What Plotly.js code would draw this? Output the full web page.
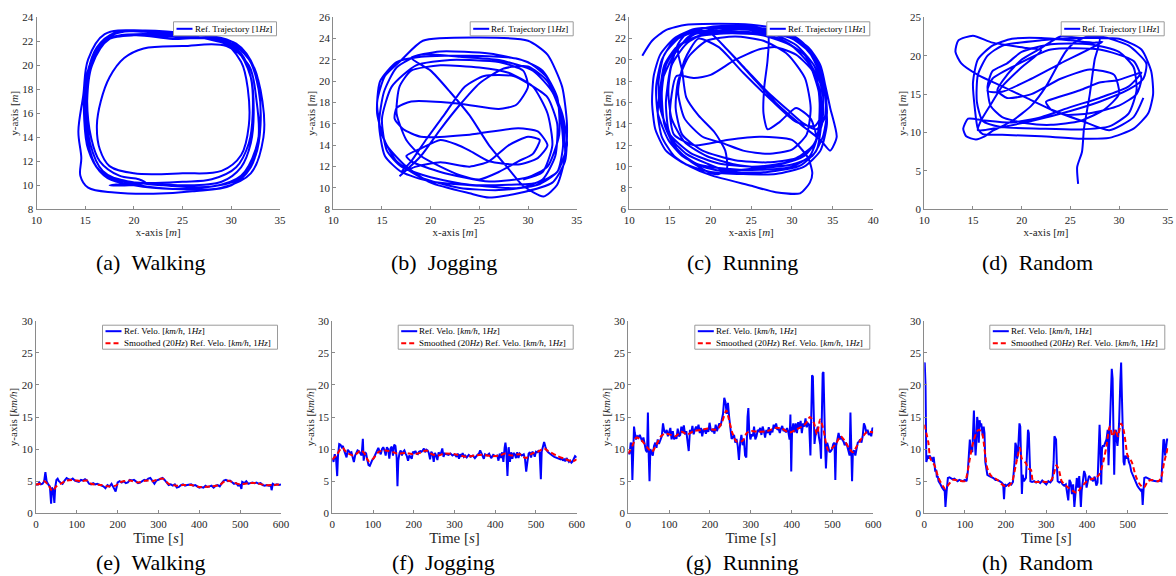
<!DOCTYPE html>
<html>
<head>
<meta charset="utf-8">
<script src="https://cdn.plot.ly/plotly-3.0.1.min.js"></script>
<style>html,body{margin:0;padding:0;background:#fff;}#chart{width:1176px;height:576px;}</style>
</head>
<body>
<div id="chart"></div>
<script>
// ---------------- DATA ----------------
const captions = ['(a)', '(b)', '(c)', '(d)', '(e)', '(f)', '(g)', '(h)'];
const activities = ['Walking', 'Jogging', 'Running', 'Random'];
const trajName = 'Ref. Trajectory [1<i>Hz</i>]';
const veloName = 'Ref. Velo. [<i>km/h</i>, 1<i>Hz</i>]';
const smoothName = 'Smoothed (20<i>Hz</i>) Ref. Velo. [<i>km/h</i>, 1<i>Hz</i>]';
const xTrajTitle = 'x-axis [<i>m</i>]';
const yTrajTitle = 'y-axis [<i>m</i>]';
const xVeloTitle = 'Time [<i>s</i>]';
const yVeloTitle = 'y-axis [<i>km/h</i>]';

// trajectories [x, y] in metres
const walkPath = [[17.5,10.0],[21,10.2],[25,10.0],[29,10.3],[31,11.5],[32,13.5],[32.3,16],[32,19],[30.5,21.3],[27,22.3],[22,22.8],[18,22.6],[16,21],[15,18.5],[14.9,15.5],[15.3,13],[16.5,11.2],[19,10.4],[23,10.0],[28,9.9],[31,10.8],[32.5,13],[33,16],[32.5,19.5],[30.5,21.8],[26,22.4],[21,22.6],[17.5,22.2],[15.7,20],[15.2,17],[15.5,13.5],[16.8,11.2],[19.5,10.2],[24,9.7],[29,9.8],[32,11.0],[33.3,14],[33.2,17],[32.2,20],[30,22],[26,22.6],[21,22.9],[17,22.6],[15.3,20.5],[14.8,17.5],[14.3,14.5],[14.6,12.3],[14.5,10.8],[15.3,9.8],[18,9.4],[22,9.3],[26,9.5],[30,10.0],[32,11.5],[32.8,14],[32.6,17],[31.8,20],[29.5,21.6],[25,21.6],[21,21.4],[19,20.6],[17.5,19],[16.6,17],[16.2,15],[16.5,13],[17.5,11.6],[20,11.0],[25,11.0],[29,11.2],[31,12.5],[31.8,15],[31.7,18],[31,20.3],[29,22],[25,22.3],[21,22.5],[17.3,22.2],[15.5,20],[15,17.3],[15.2,14],[15.8,12],[17.3,10.6],[20,10.0],[24,9.7],[28,9.9],[31,10.6],[32.5,12.5],[33,15],[32.8,18],[31.8,20.5],[29.5,22],[25,22.4],[21,22.8],[18,22.7],[16.2,21.5],[15.3,19.5],[15,16.5],[15.3,13.5],[16.2,11.5],[18,10.5],[21,10.2],[25,10.3],[28,10.5],[30.5,11.5],[31.8,13.5],[32.2,16],[32,19],[31,21],[28.5,22.2],[24,22.2],[20,22.5],[17,22.0],[15.5,20.0],[15.2,17],[15.6,14],[16.5,12],[18.5,10.8],[20.5,10.5],[21.2,10.2],[19.5,10.0],[17.5,10.0]];

const jogPath = [[16.8,11.1],[19,13],[21,15.5],[23,17.8],[25,19.8],[27.5,21.2],[30,21.4],[32,20],[33.5,17],[34,14],[33,11.5],[31,10.3],[27,9.8],[23,10.0],[19,11],[16.5,12.5],[15,15],[14.5,18],[15.3,20.5],[17,22],[19.2,23.8],[25,24.1],[30,23.8],[32,22.5],[33.5,19.5],[34,16],[33.8,12.5],[32.5,10.5],[29,9.5],[26,9.1],[24,9.5],[20,10.5],[17.5,12],[15.5,14],[14.5,17],[14.8,20],[16.5,21.8],[19,22.3],[24,22.4],[29,22.1],[31.5,21],[33,18.5],[33.2,15],[32,12],[30,11],[26,10.6],[21,11.5],[18,12.5],[17.5,13],[19,13.7],[21,14.5],[22.6,14.1],[24,13.5],[26,12.5],[29,12.2],[31,12.8],[32,14],[31,15.3],[29,15.6],[24,15],[19,14.8],[17.2,15.5],[16.3,16.5],[16.5,17.5],[18,18.1],[23,17.9],[27,17.4],[28.8,17.8],[30,19.5],[29.5,21.0],[27,21.8],[22,22.0],[18.5,21.5],[16,19.5],[15,16.5],[15.5,13.5],[17,12],[20,11],[24,10.3],[28,10.3],[31,10.5],[33,11.5],[33.6,14],[33.2,17.5],[32,20.3],[30,21.8],[26,22.6],[21,22.8],[18,22.2],[20,21],[22,19],[24,16.8],[26,14],[28,11.8],[29.5,10.2],[31.6,9.2],[33,10.3],[33.8,13],[33.5,16.5],[32.5,19],[30.5,21],[27,22],[23,22.3],[19,22.5],[16.5,21.3],[15.2,19],[14.7,16],[15.3,13],[17,11.5],[20,10.6],[25,10.2],[29,10.0],[31.5,10.8],[32.8,13],[33,16],[32,18.5],[30,19.8],[28.5,20.5],[25.5,20.5],[23.5,19.5],[21.5,17],[19.5,14.5],[18,12.5],[17,11.5],[18.5,12],[21,12.4],[24,12.0],[26,12.5],[28,14],[30,14.8],[31.2,14.5],[30.5,13.2],[29,12.5],[27,11.5],[25,10.8],[23,11.2],[21,12],[19,13],[17.5,14.5],[16.5,17],[16.8,19.5],[18,21],[21,21.5],[25,21.3],[28,20.8],[30.5,19.5],[32,17],[32.5,14],[31.5,11.5],[29.5,10.8]];

const runPath = [[11.6,20.4],[12.8,21.8],[14.5,22.8],[17,23.3],[21,23.4],[25,23.3],[29,22.8],[31.5,21.5],[33,19.5],[34,17],[34.3,14],[33.5,11.5],[31.5,10],[28,9.3],[24,9.3],[20,9.5],[17,10.2],[14.5,11.5],[13.2,13.5],[12.8,16],[13,18.5],[13.8,20.5],[15.5,22],[18,22.9],[22,23.0],[26,22.8],[30,22.0],[32.5,20.5],[33.8,18.5],[34.7,15.5],[35.5,12.8],[34.7,11.5],[33.5,12.5],[31,14],[28,16],[25,18.5],[22,21],[20,22.5],[17.5,22.8],[16,21.5],[15,19],[14.5,16],[14.8,13.5],[16,11.5],[18.5,10.2],[22,9.8],[26,9.7],[30,10],[32.2,11],[33.2,13],[33.4,16],[33,18.5],[31.5,20.5],[28.5,22],[25,22.6],[21,22.7],[17.5,22.3],[15.5,20.5],[14,18],[13.5,15],[14,12.8],[15.5,11],[17.5,10],[20,9.2],[25,8.2],[28,7.6],[31,7.5],[32.2,8.5],[32.5,9.4],[32,10.8],[30,12.5],[26,12.8],[22,12.5],[18,12.0],[15.5,13],[15,15],[15.8,18.5],[18,18.3],[20,18.6],[23,20],[26,21],[28,21.2],[30.5,20.5],[32.5,19],[33.5,17],[33.6,14],[33,11.5],[31,10.1],[27,9.5],[22,9.5],[19,10],[16.5,11],[14.8,12.5],[13.5,15],[13.3,17.5],[14,20],[15.5,21.8],[18,22.6],[20,22.5],[22,21],[24.5,19],[27,17],[29.5,15.3],[31.5,14],[33,13.5],[34,14.5],[34.2,17],[33.5,19.5],[32,21.2],[29,22.5],[25,23],[21,23],[18,22.4],[16,21],[16.5,19],[17,16.5],[18.5,14.8],[20.5,13.2],[21.8,11.5],[22,9.8],[21,9.3],[20,9.4],[17.5,10.5],[15.5,12],[14.3,14],[14,17],[14.5,19.5],[16,21.3],[19,22.4],[23,22.6],[27,22.4],[27,20],[26.6,17.5],[26.5,15],[27,13.5],[28.5,14.2],[30.5,15.5],[32.3,14.5],[33,12.5],[31.5,11],[28.5,10.2],[25,9.8],[22,9.6],[19.5,10.3],[17,11.2],[15.3,12.5],[14.2,14.5],[13.8,17],[14.3,19.5],[15.8,21.2],[18.5,22.2],[22.5,22.5],[26.5,22.3],[30,21.3],[32.2,19.5],[33.3,17],[33.5,14.5],[32.8,12.2],[31,10.8],[28,10.2],[25,10.0],[21,10.3],[17.5,11.3],[15,13],[13.8,15.5],[13.6,18],[14.3,20.5],[16.5,22.3],[20,23.1],[24,23.2],[28,22.7],[31,21.6],[33,19.8],[34,17.5],[34.3,15],[33.8,12.8],[32.5,11.0],[30,10.2],[26.5,9.9],[23,10.2],[19.5,11],[16.8,12.3],[15.2,14.5],[14.8,17],[15.2,19.5],[17,21.5],[19.5,22.6],[23.5,22.9],[27.5,22.5],[30.5,21.4],[32.7,19.5],[33.8,16.8],[33.7,14],[32.6,12],[30.5,10.8],[27,10.4],[23,10.6],[19,11.5],[16.5,13],[15.7,15.5],[16,18],[17.3,20.3],[19.5,21.8],[23,22.2],[26.5,21.8],[29.5,20.5],[31.6,18.3],[32.3,15.5],[31.8,13],[30,11.6],[27,11.2],[24,11.5],[21.5,12.2],[19,12.8],[16.8,14.5],[16,17],[16.8,20],[18.5,22],[21,21.2],[24,18.8],[27.5,16.2],[30.5,14.2],[32.8,13.8],[33.8,15]];

const randPath = [[25.8,3.3],[25.7,5.5],[26.2,7.5],[26.4,10.5],[27,15],[27.5,19.5],[28,22.3],[26,22.3],[22,22.0],[18,21.3],[16.5,20],[15.5,17.5],[15.4,14],[16,11.5],[18,10.7],[22,10.5],[26,10.4],[29,10.8],[31,12.5],[31.8,15.5],[31.5,18.5],[30,20.5],[27,21.5],[23,21.5],[20,20.5],[18.5,19],[17,18],[16.5,16],[16.8,13.5],[18,12],[20.5,11.2],[23,11],[26,11.5],[28.5,13],[30,15],[29.5,17.5],[27,18.2],[24,17],[21,15],[18.5,14.5],[17.5,15.5],[18.5,17.5],[20,19.5],[22,21],[24,22.5],[26,22.3],[30,22.2],[32.3,20.8],[33.3,18],[33.5,15],[33,12.5],[31.5,10.5],[29,9.3],[26,9.2],[22,9.5],[18,9.7],[16,9.8],[15.5,10.5],[15.2,13],[15,16.5],[15.5,19.5],[17,21.3],[19,22.2],[22,22.3],[25,22],[27.5,21.7],[28.3,21.8],[24,19],[21,17],[18,15.3],[16.5,15.4],[17,17],[19,18.5],[23,20.8],[28,20.8],[31.5,19.3],[32.3,17],[31.8,15],[30,13.5],[27,12.5],[24.5,12.3],[23,13],[22.5,14],[23.5,14.5],[26,15.5],[28,16.5],[29.8,16.8],[31.5,17.5],[32.3,17.8],[31,16],[28,14.5],[25,13.3],[22,12],[19,11.3],[16,11.6],[14.5,11.8],[14.0,10.5],[14.3,9.5],[15.3,9.1],[16.2,9.5],[17,10.2],[19,11.5],[21,13.5],[22.5,16],[23.8,19],[24.5,20.5],[25.5,21.8],[27,22.6],[28.5,22.4],[31,21.3],[32.8,19],[32.5,17],[31,15.6],[28,14],[25,12.8],[21,11.5],[17,10.5],[15.5,10.3],[15.8,11.5],[17,14],[18,16],[20,18.5],[22,20.7],[20.5,21],[17,21.7],[15,22.6],[13.5,22],[13.2,20.5],[13.8,19],[15.5,17.5],[18,16],[20.5,14.5],[23,13],[26.2,11.5],[29,10.3],[31.5,12],[32.5,14.5]];

// velocities [time s, km/h]
const walkVelo = [[0,4.5],[5,4.5],[8,4.8],[12,4.5],[16,4.6],[20,5.0],[23,6.4],[26,5.0],[30,4.5],[34,4.2],[37,1.5],[39,4.0],[42,3.7],[45,1.6],[47,4.0],[50,5.2],[53,5.4],[56,5.0],[60,4.8],[65,4.6],[70,5.1],[75,5.5],[80,5.3],[85,5.2],[90,5.4],[95,5.1],[100,5.0],[105,4.9],[110,5.2],[115,5.1],[120,5.3],[125,5.1],[130,4.6],[135,4.5],[140,4.7],[145,4.5],[150,4.6],[155,4.5],[160,4.4],[165,4.2],[170,3.9],[175,4.4],[180,4.2],[185,4.6],[190,4.0],[195,3.4],[200,4.8],[205,5.0],[210,4.8],[215,5.0],[220,4.7],[225,4.8],[230,5.2],[235,5.1],[240,5.2],[245,5.0],[250,4.7],[255,4.8],[260,5.0],[265,5.2],[270,5.1],[275,5.4],[280,5.5],[285,5.0],[290,4.6],[295,5.1],[300,5.2],[305,5.3],[310,5.5],[315,5.2],[320,4.8],[325,4.4],[330,4.5],[335,4.3],[340,4.5],[345,4.0],[350,4.1],[355,4.4],[360,4.5],[365,4.3],[370,4.4],[375,4.5],[380,4.5],[385,4.3],[390,4.4],[395,4.2],[400,4.0],[405,4.1],[410,4.0],[415,4.3],[420,4.1],[425,4.2],[430,4.3],[435,4.0],[440,4.3],[445,4.4],[450,4.2],[455,4.7],[460,5.1],[465,5.2],[470,5.0],[475,5.1],[480,4.9],[485,4.6],[490,4.7],[495,4.3],[500,4.4],[503,3.8],[505,4.9],[510,4.7],[515,5.0],[520,4.6],[525,4.7],[530,4.8],[535,4.7],[540,4.8],[545,4.6],[550,4.7],[555,4.4],[560,4.3],[565,4.4],[570,4.3],[575,4.4],[577,3.6],[580,4.6],[585,4.4],[590,4.5],[595,4.4],[600,4.5]];
const walkSmooth = [[0,4.5],[10,4.6],[20,5.0],[30,4.4],[40,3.5],[50,4.2],[60,4.6],[75,5.1],[90,5.2],[110,5.0],[125,5.1],[135,4.6],[160,4.4],[175,4.2],[195,4.3],[205,4.8],[230,5.1],[250,4.8],[270,5.1],[285,5.0],[310,5.4],[325,4.6],[345,4.3],[360,4.4],[380,4.4],[400,4.1],[430,4.2],[450,4.4],[465,5.1],[480,4.9],[500,4.5],[520,4.7],[540,4.7],[560,4.4],[580,4.4],[600,4.5]];

const jogVelo = [[0,8.5],[3,8.0],[6,9.2],[9,8.7],[12,5.8],[14,9.0],[17,10.8],[20,10.7],[23,10.3],[26,10.5],[29,9.8],[32,9.2],[35,8.7],[38,9.9],[41,9.7],[44,9.4],[47,9.5],[50,8.9],[53,8.0],[56,9.0],[59,9.4],[62,9.8],[65,9.7],[68,9.4],[72,9.0],[75,11.6],[77,8.2],[80,9.5],[83,9.3],[86,8.3],[89,7.5],[92,7.4],[95,7.9],[98,8.3],[101,8.5],[104,9.0],[107,9.4],[110,10.0],[113,10.2],[116,9.6],[119,9.2],[122,10.0],[125,10.3],[128,9.8],[131,9.0],[134,10.3],[137,10.0],[140,8.5],[143,10.1],[146,10.4],[149,9.0],[152,10.7],[155,10.5],[158,8.7],[160,4.2],[162,8.2],[165,9.4],[168,9.8],[171,9.0],[174,9.6],[177,9.8],[180,9.3],[183,8.9],[186,8.2],[189,9.0],[192,8.8],[195,8.5],[198,9.6],[201,9.4],[204,9.7],[207,9.3],[210,9.2],[213,9.6],[216,9.7],[219,9.6],[222,9.8],[225,10.1],[228,9.5],[231,9.9],[234,9.8],[237,9.4],[240,8.4],[243,9.6],[246,9.3],[249,8.0],[252,9.4],[255,9.0],[258,8.3],[261,9.5],[264,9.2],[267,9.4],[270,10.1],[273,8.8],[276,9.3],[280,9.2],[285,9.1],[290,9.3],[295,9.0],[300,9.2],[305,8.8],[308,9.3],[311,8.5],[314,9.2],[317,8.8],[320,9.4],[323,8.8],[326,9.0],[330,8.7],[335,9.1],[340,8.8],[345,9.0],[350,8.6],[355,9.0],[360,9.3],[363,9.8],[366,9.4],[369,8.9],[372,8.5],[375,9.2],[380,9.0],[385,9.3],[390,8.6],[395,9.1],[400,8.9],[405,9.0],[408,8.2],[411,9.3],[414,8.6],[417,9.5],[420,8.0],[423,10.2],[425,11.0],[427,10.0],[430,5.8],[433,10.3],[436,8.0],[439,9.5],[442,8.5],[445,9.4],[448,9.2],[451,8.6],[454,9.5],[457,8.6],[460,9.3],[465,9.0],[470,9.2],[473,8.5],[476,6.5],[479,8.0],[482,9.3],[485,9.5],[488,8.7],[491,9.6],[494,9.4],[497,8.8],[500,9.6],[503,9.5],[506,9.7],[509,9.5],[512,5.3],[514,9.6],[517,10.6],[520,11.1],[523,10.4],[526,9.8],[530,9.5],[535,9.2],[540,9.0],[545,8.8],[550,8.7],[555,8.6],[560,8.4],[563,8.7],[566,8.2],[569,8.5],[572,8.1],[575,8.6],[578,8.3],[581,8.0],[584,8.2],[587,7.9],[590,8.1],[593,8.6],[596,8.9],[600,8.7]];
const jogSmooth = [[0,8.4],[10,9.0],[20,10.0],[25,10.2],[35,9.5],[50,9.0],[60,9.3],[70,9.8],[78,9.4],[90,8.1],[100,8.5],[115,9.6],[130,9.8],[150,9.5],[160,9.3],[180,9.4],[200,9.2],[220,9.5],[230,9.8],[245,9.2],[260,9.0],[275,9.3],[300,9.2],[330,8.8],[350,9.0],[370,9.1],[390,8.9],[410,9.0],[425,9.3],[440,9.0],[460,9.2],[475,8.6],[490,9.3],[505,9.6],[520,10.1],[530,9.7],[550,9.0],[570,8.5],[590,8.1],[600,8.4]];

const runVelo = [[0,9.5],[3,9.2],[6,11.0],[8,10.8],[10,5.2],[12,9.5],[14,13.5],[16,12.5],[19,11.5],[22,12.0],[25,11.8],[28,12.2],[31,11.5],[34,11.2],[37,11.8],[40,10.5],[43,9.8],[46,9.5],[48,15.7],[50,9.0],[52,5.0],[54,10.0],[57,9.6],[60,9.0],[63,10.5],[66,11.0],[69,10.2],[72,11.5],[75,10.8],[78,11.4],[82,12.0],[85,14.0],[88,12.8],[91,12.5],[94,13.0],[97,12.0],[100,12.5],[103,13.3],[106,11.5],[109,12.8],[112,11.5],[115,12.0],[118,11.6],[121,13.2],[124,12.0],[127,12.2],[130,13.5],[133,12.5],[136,13.7],[139,12.3],[142,12.8],[145,11.5],[148,9.7],[151,13.0],[154,12.5],[157,13.6],[160,12.3],[163,13.0],[166,13.5],[169,13.0],[172,13.8],[175,12.5],[178,13.3],[181,12.0],[184,13.0],[187,13.0],[190,12.4],[193,13.2],[196,12.7],[199,14.1],[202,13.0],[205,12.8],[208,13.2],[211,12.4],[214,13.8],[217,12.8],[220,13.3],[223,14.0],[226,13.6],[229,14.6],[232,15.5],[235,18.0],[238,17.3],[241,15.5],[244,17.2],[247,15.0],[250,13.0],[253,11.6],[256,11.8],[259,12.2],[262,11.0],[265,11.6],[268,10.5],[271,8.3],[274,11.0],[277,12.2],[280,10.6],[283,11.6],[286,9.0],[289,8.7],[292,15.0],[294,16.4],[296,13.0],[299,11.5],[302,12.3],[305,12.0],[308,13.5],[311,11.5],[314,12.0],[317,13.0],[320,12.8],[323,13.3],[326,12.2],[329,13.5],[332,12.8],[335,11.8],[338,13.0],[341,12.5],[344,13.4],[347,12.2],[350,13.0],[353,12.6],[356,13.8],[359,13.2],[362,14.0],[365,13.0],[368,13.2],[371,12.5],[374,13.2],[377,13.6],[380,12.8],[383,13.0],[386,12.6],[389,13.3],[392,12.6],[395,11.5],[397,15.4],[399,6.5],[401,12.8],[404,14.0],[407,12.6],[410,14.0],[413,12.5],[416,14.2],[419,13.2],[422,14.4],[425,12.5],[428,14.0],[431,13.5],[434,14.8],[437,13.4],[440,14.0],[443,13.8],[446,9.0],[448,15.0],[450,21.5],[452,21.3],[454,14.0],[456,10.8],[458,12.0],[461,12.8],[464,13.5],[467,11.8],[470,10.7],[472,8.5],[474,14.5],[476,21.8],[478,22.0],[480,14.0],[482,10.5],[484,7.0],[487,11.0],[490,10.3],[493,9.5],[496,9.7],[499,10.0],[502,10.8],[505,11.0],[507,5.2],[509,10.5],[512,11.5],[515,12.5],[518,11.5],[521,12.0],[524,11.5],[527,11.2],[530,10.6],[533,11.0],[536,10.5],[539,9.6],[542,9.0],[544,15.7],[546,10.5],[548,5.0],[550,9.5],[553,9.8],[556,9.0],[559,10.0],[562,11.0],[565,11.2],[568,11.5],[571,11.0],[574,12.0],[577,14.0],[580,13.5],[583,12.5],[586,13.0],[589,12.2],[592,12.5],[595,12.0],[598,13.3],[600,13.2]];
const runSmooth = [[0,9.3],[10,10.5],[20,11.8],[30,11.5],[40,10.8],[50,10.0],[58,9.6],[65,10.2],[80,12.0],[90,12.4],[105,12.2],[115,12.0],[130,12.7],[145,12.3],[160,12.8],[180,13.0],[195,13.2],[210,13.0],[220,13.2],[230,14.3],[240,16.0],[245,15.0],[255,12.5],[265,11.2],[280,11.3],[290,12.5],[300,12.8],[320,12.7],[340,12.8],[360,13.3],[375,13.2],[395,12.6],[410,13.0],[425,13.5],[435,14.0],[445,15.0],[455,14.0],[462,12.3],[470,14.6],[478,13.0],[490,9.8],[500,10.2],[510,11.0],[520,12.0],[530,11.3],[540,10.2],[550,9.5],[560,10.5],[575,12.0],[585,12.7],[600,12.6]];

const randVelo = [[0,22.5],[1,23.5],[3,20.0],[5,8.0],[7,8.5],[9,9.0],[11,8.5],[13,9.0],[15,8.8],[17,8.4],[19,8.7],[21,8.0],[23,8.8],[25,7.5],[27,6.5],[29,6.8],[31,5.6],[33,5.8],[35,5.0],[38,4.7],[41,4.2],[44,4.0],[47,3.7],[49,3.5],[50,3.8],[52,1.0],[55,3.5],[58,5.5],[62,5.6],[66,5.5],[70,5.3],[74,5.4],[78,5.2],[82,5.0],[86,5.2],[90,5.1],[95,5.0],[100,5.2],[104,5.0],[107,6.5],[110,9.0],[112,11.5],[114,9.5],[116,10.5],[118,9.5],[120,12.0],[122,16.0],[124,12.0],[126,9.0],[128,11.0],[130,15.0],[132,14.0],[134,11.0],[136,14.5],[138,13.5],[140,14.0],[142,13.0],[144,12.0],[146,13.5],[148,12.5],[150,8.0],[152,7.0],[155,6.0],[160,5.8],[165,5.7],[170,5.5],[175,5.2],[180,5.2],[185,5.0],[190,4.8],[194,4.5],[196,2.2],[198,4.5],[202,4.3],[206,4.5],[210,4.7],[214,4.5],[218,4.9],[222,8.0],[224,11.0],[226,10.5],[228,8.5],[230,9.0],[232,12.0],[234,14.0],[236,13.5],[238,8.0],[240,3.0],[242,6.0],[245,5.0],[250,5.5],[253,9.0],[255,13.0],[257,12.5],[259,8.0],[261,5.0],[265,4.9],[270,5.0],[275,4.8],[280,5.0],[285,4.7],[290,5.1],[295,4.8],[300,4.5],[305,5.0],[310,4.8],[315,5.2],[318,8.0],[320,12.0],[322,11.8],[324,11.5],[326,7.5],[328,5.0],[332,4.8],[336,5.0],[340,4.5],[344,4.3],[348,4.5],[351,3.5],[354,2.0],[357,5.2],[360,4.8],[363,3.0],[366,4.5],[369,1.0],[372,3.0],[375,5.5],[378,4.0],[381,5.8],[383,3.5],[385,1.0],[387,3.5],[390,5.5],[393,6.6],[396,6.0],[399,4.0],[402,5.0],[405,5.8],[408,5.6],[411,5.4],[415,5.0],[419,5.7],[423,4.3],[426,4.8],[429,9.0],[431,13.8],[433,10.5],[435,4.5],[437,10.0],[439,10.5],[442,10.5],[445,11.0],[448,11.5],[451,13.0],[453,7.5],[456,13.0],[459,20.5],[461,22.5],[463,21.0],[465,12.0],[467,6.0],[469,12.5],[471,13.0],[473,11.5],[475,10.5],[477,12.0],[479,14.0],[482,20.5],[484,23.5],[486,18.0],[488,12.5],[490,8.0],[492,7.5],[494,9.0],[497,8.5],[500,9.0],[503,8.0],[506,7.5],[509,6.5],[512,6.0],[515,5.5],[518,5.0],[521,4.5],[524,4.3],[527,4.0],[530,3.8],[533,3.5],[535,3.8],[537,1.3],[539,3.5],[541,5.5],[545,5.6],[550,5.5],[555,5.3],[560,5.1],[565,5.0],[570,5.0],[575,5.0],[580,5.1],[583,5.0],[586,8.0],[588,11.5],[590,11.4],[592,9.0],[595,10.5],[597,11.5],[600,11.5]];
const randSmooth = [[0,13.8],[5,12.5],[10,11.0],[15,8.5],[25,7.5],[35,5.5],[45,4.3],[52,3.8],[60,4.5],[70,5.2],[85,5.1],[100,5.0],[105,6.0],[112,8.5],[120,11.0],[130,12.8],[135,13.0],[142,12.5],[148,10.0],[155,7.0],[165,5.8],[180,5.2],[195,4.3],[205,4.2],[215,4.8],[225,7.5],[230,9.0],[235,10.2],[240,8.5],[250,7.8],[255,7.0],[262,6.8],[268,5.0],[290,4.9],[310,5.0],[318,6.0],[325,7.5],[332,6.5],[338,5.0],[350,4.2],[365,3.5],[375,3.2],[385,4.0],[400,5.0],[410,5.3],[420,5.5],[430,6.0],[440,8.0],[448,10.5],[456,13.5],[463,12.0],[470,13.0],[476,12.0],[484,14.0],[490,13.0],[495,11.0],[500,9.0],[510,8.0],[520,5.8],[530,4.5],[540,4.0],[550,5.0],[560,5.2],[575,5.0],[582,5.5],[590,8.0],[600,10.5]];

const trajData = [walkPath, jogPath, runPath, randPath];
const veloData = [walkVelo, jogVelo, runVelo, randVelo];
const smoothData = [walkSmooth, jogSmooth, runSmooth, randSmooth];

// axis ranges
const trajXRange = [[10,35],[10,35],[10,40],[10,35]];
const trajYRange = [[8,24],[8,26],[6,24],[0,25]];
const trajYStep = [2,2,2,5];
const veloXRange = [0,600];
const veloYRange = [0,30];

// ---------------- LAYOUT ----------------
const W = 1176, H = 576;
const FONT = '"Liberation Serif"';
const AXC = '#8a8a8a';
const TXT = '#262626';
const BLUE = '#0000ff', RED = '#ff0000';
const topX = [[36.5,280],[333.3,576.7],[629.3,873.3],[924.3,1167.7]];
const botX = [[36,281],[332.3,576.7],[628.3,873.3],[924.3,1168.3]];
const topY = [17.3,209.3], botY = [320.7,513.3];
const capX = [150,444,742,1037];
const capYTop = 262;

const px = v => v / W;
const py = v => 1 - v / H;

function axis(dom, range, dtick, anchor, title, tsize, standoff) {
  return {
    domain: dom, range: range, dtick: dtick, tick0: 0, anchor: anchor,
    showline: true, linecolor: AXC, linewidth: 1, mirror: false,
    ticks: 'inside', ticklen: 3, tickcolor: AXC, tickwidth: 1,
    showgrid: false, zeroline: false, fixedrange: true,
    tickfont: {family: FONT, size: 11, color: TXT},
    title: {text: title, font: {family: FONT, size: tsize, color: TXT}, standoff: standoff},
    automargin: false
  };
}

const layout = {
  width: W, height: H, margin: {l: 0, r: 0, t: 0, b: 0},
  paper_bgcolor: '#fff', plot_bgcolor: '#fff', showlegend: false,
  font: {family: FONT},
  shapes: [], annotations: []
};
const traces = [];

function addLegend(axRight, axTop, entries, boxW) {
  const rowH = 12;
  const h = entries.length === 1 ? 14 : 24;
  const right = axRight - 3.5, top = axTop + 4.5, left = right - boxW;
  layout.shapes.push({type: 'rect', xref: 'paper', yref: 'paper', layer: 'above',
    x0: px(left), x1: px(right), y0: py(top), y1: py(top + h),
    line: {color: '#9a9a9a', width: 1}, fillcolor: '#ffffff'});
  entries.forEach((e, i) => {
    const yc = top + (entries.length === 1 ? 7 : 6 + i * rowH);
    layout.shapes.push({type: 'line', xref: 'paper', yref: 'paper', layer: 'above',
      x0: px(left + 3), x1: px(left + 19), y0: py(yc), y1: py(yc),
      line: {color: e.color, width: 2, dash: e.dash}});
    layout.annotations.push({xref: 'paper', yref: 'paper', x: px(left + 20), y: py(yc),
      xanchor: 'left', yanchor: 'middle', showarrow: false, text: e.name,
      font: {family: FONT, size: 9, color: '#000'}, borderpad: 0});
  });
}

for (let i = 0; i < 4; i++) {
  const n = i + 1, m = i + 5;
  const xs = n === 1 ? '' : String(n);
  const xk = 'xaxis' + xs, yk = 'yaxis' + xs;
  layout[xk] = axis([px(topX[i][0]), px(topX[i][1])], trajXRange[i], 5, 'y' + xs, xTrajTitle, 11, 3);
  layout[yk] = axis([py(topY[1]), py(topY[0])], trajYRange[i], trajYStep[i], 'x' + xs, yTrajTitle, 11, 1);
  traces.push({
    type: 'scatter', mode: 'lines', name: trajName,
    x: trajData[i].map(p => p[0]), y: trajData[i].map(p => p[1]),
    xaxis: 'x' + xs, yaxis: 'y' + xs,
    line: {color: BLUE, width: 2, shape: 'spline', smoothing: i === 0 ? 1 : 0.6},
    hoverinfo: 'skip'
  });
  addLegend(topX[i][1], topY[0], [{name: trajName, color: BLUE, dash: 'solid'}], 103);

  const xk2 = 'xaxis' + m, yk2 = 'yaxis' + m;
  layout[xk2] = axis([px(botX[i][0]), px(botX[i][1])], veloXRange, 100, 'y' + m, xVeloTitle, 15, 2);
  layout[yk2] = axis([py(botY[1]), py(botY[0])], veloYRange, 5, 'x' + m, yVeloTitle, 11, 1);
  traces.push({
    type: 'scatter', mode: 'lines', name: veloName,
    x: veloData[i].map(p => p[0]), y: veloData[i].map(p => p[1]),
    xaxis: 'x' + m, yaxis: 'y' + m,
    line: {color: BLUE, width: 2}, hoverinfo: 'skip'
  });
  traces.push({
    type: 'scatter', mode: 'lines', name: smoothName,
    x: smoothData[i].map(p => p[0]), y: smoothData[i].map(p => p[1]),
    xaxis: 'x' + m, yaxis: 'y' + m,
    line: {color: RED, width: 2, dash: '5px,3px', shape: 'spline', smoothing: 0.8}, hoverinfo: 'skip'
  });
  addLegend(botX[i][1], botY[0], [
    {name: veloName, color: BLUE, dash: 'solid'},
    {name: smoothName, color: RED, dash: '5px,3px'}], 175);

  layout.annotations.push({xref: 'paper', yref: 'paper', x: px(capX[i]), y: py(capYTop),
    xanchor: 'center', yanchor: 'middle', showarrow: false,
    text: captions[i] + '&nbsp;&nbsp;' + activities[i],
    font: {family: FONT, size: 22, color: '#000'}});
  layout.annotations.push({xref: 'paper', yref: 'paper', x: px(capX[i]), y: 0,
    xanchor: 'center', yanchor: 'bottom', showarrow: false,
    text: captions[i + 4] + '&nbsp;&nbsp;' + activities[i],
    font: {family: FONT, size: 22, color: '#000'}, borderpad: 0});
}

Plotly.newPlot('chart', traces, layout, {staticPlot: true, displayModeBar: false});
</script>
</body>
</html>
